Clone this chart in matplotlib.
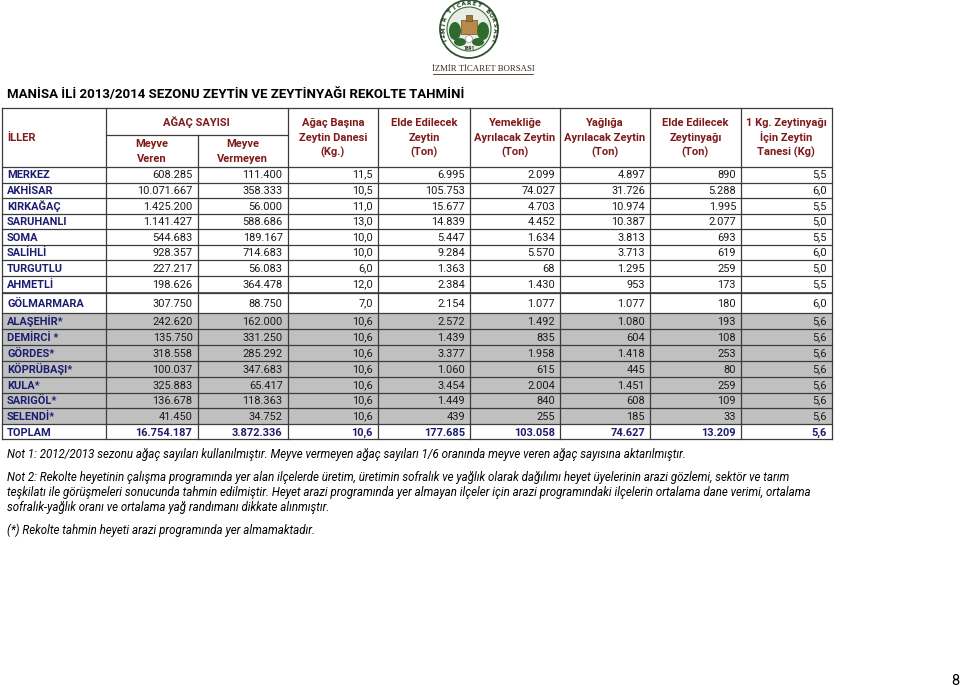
import numpy as np
import matplotlib
matplotlib.use('Agg')
from matplotlib import pyplot as plt
from matplotlib.patches import Rectangle, Circle, Ellipse

# --- veriler ---
ilceler = ['MERKEZ', 'AKHİSAR', 'KIRKAĞAÇ', 'SARUHANLI', 'SOMA', 'SALİHLİ', 'TURGUTLU',
           'AHMETLİ', 'GÖLMARMARA', 'ALAŞEHİR*', 'DEMİRCİ *', 'GÖRDES*', 'KÖPRÜBAŞI*',
           'KULA*', 'SARIGÖL*', 'SELENDİ*']
meyve_veren = [608285, 10071667, 1425200, 1141427, 544683, 928357, 227217, 198626, 307750,
               242620, 135750, 318558, 100037, 325883, 136678, 41450]
meyve_vermeyen = [111400, 358333, 56000, 588686, 189167, 714683, 56083, 364478, 88750,
                  162000, 331250, 285292, 347683, 65417, 118363, 34752]
agac_basina = [11.5, 10.5, 11.0, 13.0, 10.0, 10.0, 6.0, 12.0, 7.0,
               10.6, 10.6, 10.6, 10.6, 10.6, 10.6, 10.6]
elde_zeytin = [6995, 105753, 15677, 14839, 5447, 9284, 1363, 2384, 2154,
               2572, 1439, 3377, 1060, 3454, 1449, 439]
yemeklik = [2099, 74027, 4703, 4452, 1634, 5570, 68, 1430, 1077,
            1492, 835, 1958, 615, 2004, 840, 255]
yaglik = [4897, 31726, 10974, 10387, 3813, 3713, 1295, 953, 1077,
          1080, 604, 1418, 445, 1451, 608, 185]
zeytinyagi = [890, 5288, 1995, 2077, 693, 619, 259, 173, 180,
              193, 108, 253, 80, 259, 109, 33]
randiman = [5.5, 6.0, 5.5, 5.0, 5.5, 6.0, 5.0, 5.5, 6.0,
            5.6, 5.6, 5.6, 5.6, 5.6, 5.6, 5.6]
programda_yok = [False] * 9 + [True] * 7
toplam = [16754187, 3872336, 10.6, 177685, 103058, 74627, 13209, 5.6]
ondalikli = [False, False, True, False, False, False, False, True]

basliklar = [['Ağaç Başına', 'Zeytin Danesi', '(Kg.)'],
             ['Elde Edilecek', 'Zeytin', '(Ton)'],
             ['Yemekliğe', 'Ayrılacak Zeytin', '(Ton)'],
             ['Yağlığa', 'Ayrılacak Zeytin', '(Ton)'],
             ['Elde Edilecek', 'Zeytinyağı', '(Ton)'],
             ['1 Kg. Zeytinyağı', 'İçin Zeytin', 'Tanesi (Kg)']]

baslik = 'MANİSA İLİ 2013/2014 SEZONU ZEYTİN VE ZEYTİNYAĞI REKOLTE TAHMİNİ'
notlar = ['Not 1: 2012/2013 sezonu ağaç sayıları kullanılmıştır. Meyve vermeyen ağaç sayıları 1/6 oranında meyve veren ağaç sayısına aktarılmıştır.',
          'Not 2: Rekolte heyetinin çalışma programında yer alan ilçelerde üretim, üretimin sofralık ve yağlık olarak dağılımı heyet üyelerinin arazi gözlemi, sektör ve tarım',
          'teşkilatı ile görüşmeleri sonucunda tahmin edilmiştir. Heyet arazi programında yer almayan ilçeler için arazi programındaki ilçelerin ortalama dane verimi, ortalama',
          'sofralık-yağlık oranı ve ortalama yağ randımanı dikkate alınmıştır.',
          '(*) Rekolte tahmin heyeti arazi programında yer almamaktadır.']


def tr(v, ondalik=False):
    s = f'{v:,.1f}' if ondalik else f'{v:,.0f}'
    return s.replace(',', '#').replace('.', ',').replace('#', '.')


plt.rcParams['font.family'] = ['Roboto', 'DejaVu Sans']
KIRMIZI = '#801a1a'
LACIVERT = '#1c1c70'
CIZGI = '#3c3c3c'
FS = 7.9
HFS = 8.0

fig = plt.figure(figsize=(9.6, 6.87), dpi=100)
ax = fig.add_axes([0, 0, 1, 1])
ax.set_xlim(0, 960)
ax.set_ylim(687, 0)
ax.axis('off')

# sutun ve satir sinirlari (piksel)
xs = [2, 106, 197.5, 287.5, 378, 470, 560, 650, 741, 831.5]
ust, alt_cizgi, bas_alt = 107.7, 135, 166.5
ys = [bas_alt, 182.5, 198, 213.5, 229, 244.5, 260, 275.5, 293, 313, 329, 345, 361,
      377, 392.7, 408.3, 424, 439.3]

# gri satirlar
for i, gri in enumerate(programda_yok):
    if gri:
        ax.add_patch(Rectangle((xs[0], ys[i]), xs[-1] - xs[0], ys[i + 1] - ys[i],
                               facecolor='#c0c0c0', edgecolor='none', zorder=1))


def satir_yaz(y0, y1, etiket, degerler, renk, kalin):
    yb = (y0 + y1) / 2 + 4.0
    ax.text(xs[0] + 5, yb, etiket, ha='left', va='baseline', fontsize=FS,
            fontweight='bold', color=LACIVERT, zorder=3)
    for j, d in enumerate(degerler):
        # virgullu (ince) metinler bir piksel asagi oturuyor
        dy = -1 if (',' in d and not kalin) else 0
        ax.text(xs[j + 2] - 5, yb + dy, d, ha='right', va='baseline', fontsize=FS,
                fontweight='bold' if kalin else 'normal', color=renk, zorder=3)


for i, ad in enumerate(ilceler):
    deg = [tr(meyve_veren[i]), tr(meyve_vermeyen[i]), tr(agac_basina[i], True),
           tr(elde_zeytin[i]), tr(yemeklik[i]), tr(yaglik[i]), tr(zeytinyagi[i]),
           tr(randiman[i], True)]
    satir_yaz(ys[i], ys[i + 1], ad, deg, '#1a1a1a', False)

satir_yaz(ys[-2], ys[-1], 'TOPLAM', [tr(v, o) for v, o in zip(toplam, ondalikli)],
          LACIVERT, True)

# cizgiler
lw = 0.9
ax.plot([xs[0], xs[-1]], [ust, ust], color=CIZGI, lw=lw, zorder=2)
ax.plot([xs[1], xs[3]], [alt_cizgi, alt_cizgi], color=CIZGI, lw=lw, zorder=2)
for y in ys:
    ax.plot([xs[0], xs[-1]], [y, y], color=CIZGI, lw=lw, zorder=2)
ax.plot([xs[0], xs[-1]], [ys[8] - 1.5, ys[8] - 1.5], color=CIZGI, lw=0.6, zorder=2)
for k, x in enumerate(xs):
    y_bas = alt_cizgi if k == 2 else ust
    ax.plot([x, x], [y_bas, ys[-1]], color=CIZGI, lw=lw, zorder=2)

# baslik hucreleri
ax.text(xs[0] + 5, 136.7 + 4.0, 'İLLER', ha='left', va='baseline', fontsize=HFS,
        fontweight='bold', color=KIRMIZI)
ax.text((xs[1] + xs[3]) / 2, 122.5 + 4.0, 'AĞAÇ SAYISI', ha='center', va='baseline',
        fontsize=HFS, fontweight='bold', color=KIRMIZI)
for j, (a, b) in enumerate([('Meyve', 'Veren'), ('Meyve', 'Vermeyen')]):
    xc = (xs[1 + j] + xs[2 + j]) / 2
    ax.text(xc, 143.3 + 4.0, a, ha='center', va='baseline', fontsize=HFS,
            fontweight='bold', color=KIRMIZI)
    ax.text(xc, 158.3 + 4.0, b, ha='center', va='baseline', fontsize=HFS,
            fontweight='bold', color=KIRMIZI)
for j, satirlar in enumerate(basliklar):
    xc = (xs[3 + j] + xs[4 + j]) / 2
    for k, t in enumerate(satirlar):
        ax.text(xc, 122 + 15 * k + 4.0, t, ha='center', va='baseline', fontsize=HFS,
                fontweight='bold', color=KIRMIZI)

# ana baslik
ax.text(7, 92.7 + 5.0, baslik, ha='left', va='baseline', fontsize=9.5,
        fontweight='bold', color='black')

# notlar
for t, y in zip(notlar, [454, 476.7, 492.5, 507.5, 530]):
    ax.text(7, y + 3.8, t, ha='left', va='baseline', fontsize=8.3,
            style='italic', color='black')

# sayfa numarasi
ax.text(955, 680 + 5, '8', ha='center', va='baseline', fontsize=10.5, color='black')

# logo
cx, cy, r = 469, 29, 29
ax.add_patch(Circle((cx, cy), r, facecolor='white', edgecolor='#2f4f2f', lw=1.3, zorder=4))
ax.add_patch(Circle((cx, cy), r - 7, facecolor='#e9eee4', edgecolor='#3d6b3d', lw=0.8, zorder=4))
for ex, ey, ew, eh in [(-14, 2, 12, 18), (14, 2, 12, 18), (-9, 13, 12, 8), (9, 13, 12, 8)]:
    ax.add_patch(Ellipse((cx + ex, cy + ey), ew, eh, facecolor='#2f6b2f',
                         edgecolor='none', zorder=5))
ax.add_patch(Rectangle((cx - 8, cy - 9), 16, 14, facecolor='#b88a4a', edgecolor='#6b4a22',
                       lw=0.5, zorder=6))
ax.add_patch(Rectangle((cx - 3, cy - 14), 6, 6, facecolor='#a07438', edgecolor='#6b4a22',
                       lw=0.5, zorder=6))
ax.add_patch(Circle((cx, cy + 10), 3.5, facecolor='white', edgecolor='#777777', lw=0.4, zorder=6))
ax.text(cx, cy + 19, '1891', ha='center', va='center', fontsize=3.5, fontweight='bold',
        color='#222222', zorder=6)
halka = 'İZMİR TİCARET BORSASI'
acilar = np.linspace(205, -25, len(halka))
for ch, a in zip(halka, acilar):
    rad = np.deg2rad(a)
    ax.text(cx + (r - 3.5) * np.cos(rad), cy - (r - 3.5) * np.sin(rad), ch,
            ha='center', va='center', fontsize=4.2, fontweight='bold', color='#1d3d1d',
            rotation=a - 90, zorder=6, family='DejaVu Sans')
ax.text(483, 68 + 3, 'İZMİR TİCARET BORSASI', ha='center', va='baseline',
        fontsize=6.3, family='Liberation Serif', color='#3a2a20')
ax.plot([433, 533], [74, 74], color='#3a2a20', lw=0.6)

fig.savefig('out.png', dpi=100)
